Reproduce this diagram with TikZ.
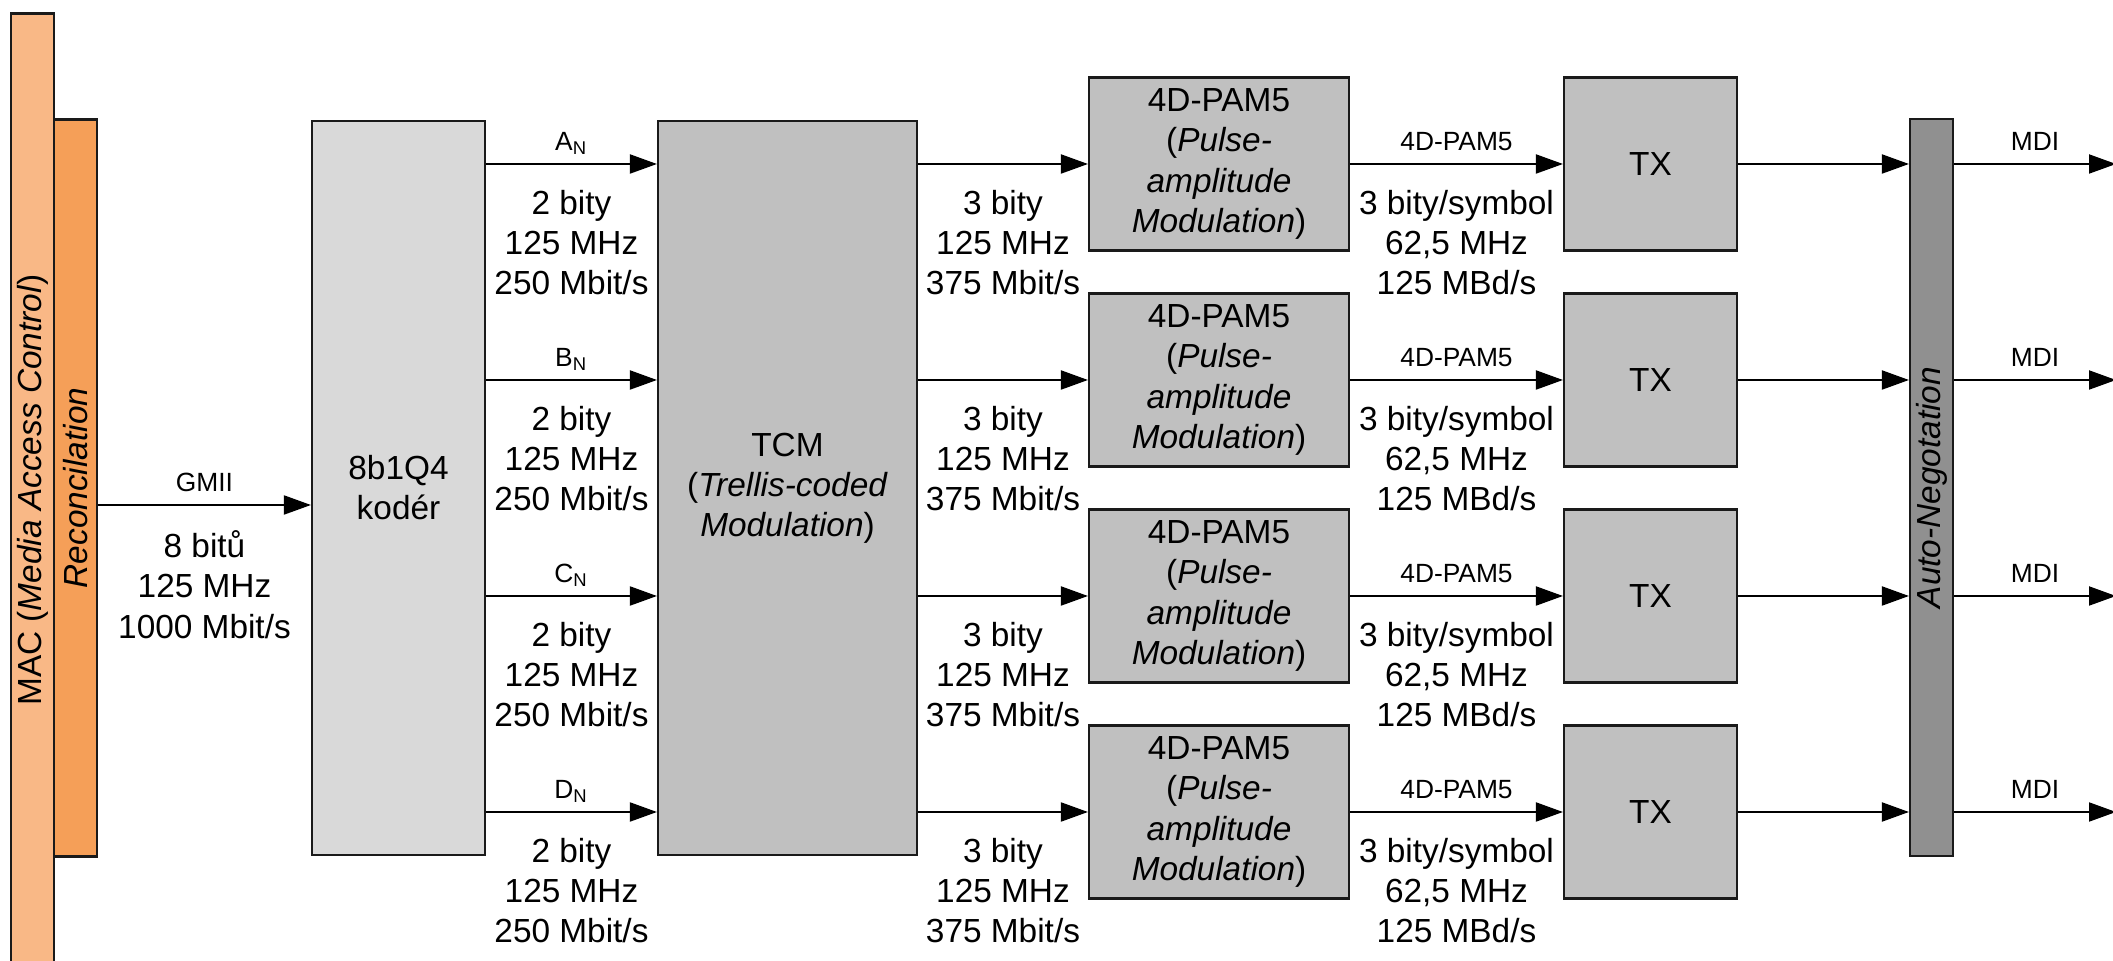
\documentclass[tikz,border=0pt]{standalone}
\usepackage{fontspec}
\setmainfont{Liberation Sans}
\usetikzlibrary{arrows.meta}
\definecolor{macfill}{HTML}{F9B886}
\definecolor{recfill}{HTML}{F59F58}
\definecolor{encfill}{HTML}{D9D9D9}
\definecolor{blockfill}{HTML}{C0C0C0}
\definecolor{negfill}{HTML}{909090}
\definecolor{edgecolor}{HTML}{1A1A1A}

\begin{document}
\begin{tikzpicture}[
  x=0.1mm, y=-0.1mm,
  >={Triangle[length=2.7mm, width=1.9mm]},
  every node/.style={font=\fontsize{9.5pt}{11.4pt}\selectfont},
  block/.style={draw=edgecolor, line width=0.6pt, fill=blockfill, inner sep=0pt, align=center},
  bar/.style={block, minimum width=4.3mm, minimum height=73.7mm},
  link/.style={line width=0.55pt, ->},
  tag/.style={above=1.25mm, inner sep=0pt, text depth=0pt, font=\fontsize{7.5pt}{9pt}\selectfont},
  rate/.style={below=2.5mm, inner sep=0pt, align=center}
]
  \useasboundingbox (0,0) rectangle (2113,961);

  % MAC and reconciliation layers
  \node[block, fill=macfill, minimum width=4.3mm, minimum height=95.3mm,
    label={[rotate=90]center:MAC (\textit{Media Access Control})}] (mac) at (32.5,490) {};
  \node[bar, fill=recfill,
    label={[rotate=90]center:\textit{Reconcilation}}] (rec) at (75.5,488) {};

  % coder and trellis modulation
  \node[block, fill=encfill, minimum width=17.3mm, minimum height=73.4mm] (enc) at (398.5,488) {8b1Q4\\kodér};
  \node[block, minimum width=25.9mm, minimum height=73.4mm] (tcm) at (787.5,488)
    {TCM\\(\textit{Trellis-coded}\\\textit{Modulation})};

  \node[bar, fill=negfill,
    label={[rotate=90]center:\textit{Auto-Negotation}}] (auto) at (1931.5,487.5) {};

  % four channels
  \foreach \i/\y in {1/164,2/380,3/596,4/812} {
    \node[block, minimum width=26mm, minimum height=17.3mm] (pam\i) at (1219,\y)
      {4D-PAM5\\(\textit{Pulse-}\\\textit{amplitude}\\\textit{Modulation})};
    \node[block, minimum width=17.3mm, minimum height=17.3mm] (tx\i) at (1650.5,\y) {TX};
    \coordinate (mdi\i) at (2116,\y);
  }

  \coordinate (gmii) at (0,505);
  \draw[link] (rec.east |- gmii) -- node[tag] {GMII}
    node[rate] {8 bitů\\125 MHz\\1000 Mbit/s} (enc.west |- gmii);

  \foreach \i/\n in {1/A,2/B,3/C,4/D} {
    \draw[link] (enc.east |- pam\i) -- node[tag] {\n\textsubscript{N}}
      node[rate] {2 bity\\125 MHz\\250 Mbit/s} (tcm.west |- pam\i);
    \draw[link] (tcm.east |- pam\i) -- node[rate] {3 bity\\125 MHz\\375 Mbit/s} (pam\i);
    \draw[link] (pam\i) -- node[tag] {4D-PAM5}
      node[rate] {3 bity/symbol\\62,5 MHz\\125 MBd/s} (tx\i);
    \draw[link] (tx\i) -- (auto.west |- tx\i);
    \draw[link] (auto.east |- tx\i) -- node[tag] {MDI} (mdi\i);
  }
\end{tikzpicture}
\end{document}
